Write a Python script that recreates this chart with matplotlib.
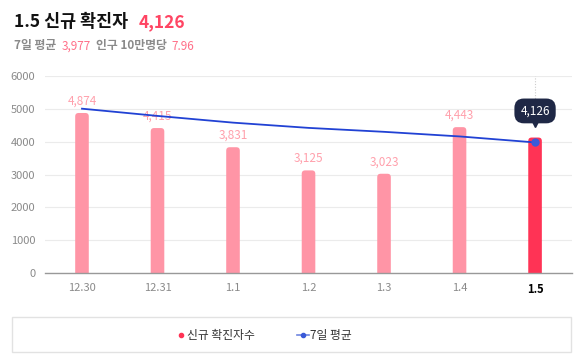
import matplotlib
matplotlib.use("Agg")
import matplotlib.pyplot as plt
from matplotlib.patches import FancyBboxPatch, Rectangle
from matplotlib.lines import Line2D
import matplotlib.transforms as mtransforms

plt.rcParams['font.family'] = ['Noto Sans CJK KR', 'DejaVu Sans']

# data
dates = ['12.30', '12.31', '1.1', '1.2', '1.3', '1.4', '1.5']
new_cases = [4874, 4415, 3831, 3125, 3023, 4443, 4126]
avg_7day = [5005, 4785, 4580, 4420, 4300, 4160, 3977]
per_100k = 7.96

BAR = '#ff95a6'
BAR_HI = '#ff3355'
LINE = '#2142d4'
GREY = '#8a8a8a'

fig = plt.figure(figsize=(5.79, 3.62), dpi=100)
ax = fig.add_axes([0.0777, 0.2459, 0.9103, 0.5441])

x = list(range(len(dates)))
ax.set_xlim(-0.49, 6.49)
ax.set_ylim(0, 6000)

# bars with rounded tops
w = 0.18
ppx = 0.91 * 5.79 * 100 / 6.98          # pixels per x unit
ppy = 0.5441 * 3.62 * 100 / 6000        # pixels per y unit
for i, v in enumerate(new_cases):
    c = BAR_HI if i == len(new_cases) - 1 else BAR
    p = FancyBboxPatch((i - w / 2, -300), w, v + 300,
                       boxstyle="round,pad=0,rounding_size=0.045",
                       mutation_aspect=ppx / ppy,
                       fc=c, ec='none', zorder=2)
    ax.add_patch(p)
    if i < len(new_cases) - 1:
        ax.annotate(f'{v:,}', (i, v), xytext=(0, 4), textcoords='offset points',
                    ha='center', va='bottom', fontsize=8.5, color='#ffa0ac')

ax.plot(x, avg_7day, color=LINE, lw=1.3, zorder=3)
ax.plot(x[-1], avg_7day[-1], 'o', color='#3a5ad8', ms=5, zorder=4)

# tooltip on last day
last = new_cases[-1]
ax.vlines(x[-1], 5150, 6000, colors='#cccccc', linestyles=(0, (1, 1.5)), lw=0.8, zorder=1)
ax.annotate(f'{last:,}', (x[-1], avg_7day[-1]), xytext=(0, 18), textcoords='offset points',
            ha='center', va='bottom', fontsize=8.5, color='white', zorder=6,
            bbox=dict(boxstyle='round,pad=0.5,rounding_size=0.8', fc='#1f2846', ec='none'))
tri = mtransforms.offset_copy(ax.transData, fig=fig, x=0, y=14, units='points')
ax.plot(x[-1], avg_7day[-1], marker='v', color='#1f2846', ms=6, transform=tri,
        zorder=5, clip_on=False)

# axes styling
ax.set_yticks(range(0, 6001, 1000))
ax.set_yticklabels([str(t) for t in range(0, 6001, 1000)])
ax.set_xticks(x)
ax.set_xticklabels(dates)
ax.tick_params(axis='both', length=0, colors=GREY, labelsize=8)
ax.tick_params(axis='x', pad=7)
ax.tick_params(axis='y', pad=7)
xl = ax.get_xticklabels()
xl[-1].set_color('black')
xl[-1].set_fontweight('bold')
ax.grid(axis='y', color='#ebebeb', lw=0.8, zorder=0)
ax.set_axisbelow(True)
for s in ['top', 'right', 'left']:
    ax.spines[s].set_visible(False)
ax.spines['bottom'].set_color('#999999')
ax.spines['bottom'].set_linewidth(1.0)
ax.spines['bottom'].set_zorder(5)

# title
fig.text(14 / 579, 1 - 22 / 362, f'{dates[-1]} 신규 확진자', fontsize=12.5,
         fontweight='bold', color='#111111', va='center')
fig.text(139 / 579, 1 - 22 / 362, f'{last:,}', fontsize=12.5,
         color='#ff4563', va='center', fontweight='bold')
sub_y = 1 - 46 / 362
fig.text(14 / 579, sub_y, '7일 평균', fontsize=8.5, fontweight='bold', color=GREY, va='center')
fig.text(62 / 579, sub_y, f'{avg_7day[-1]:,}', fontsize=8.5, color='#ff6f88', va='center')
fig.text(96 / 579, sub_y, '인구 10만명당', fontsize=8.5, fontweight='bold', color=GREY, va='center')
fig.text(171 / 579, sub_y, f'{per_100k}', fontsize=8.5, color='#ff6f88', va='center')

# legend box
fig.patches.append(Rectangle((12 / 579, 10 / 362), 559 / 579, 35 / 362,
                             transform=fig.transFigure, fc='white', ec='#e2e2e2', lw=1))
leg_y = 1 - 335 / 362
fig.lines.append(Line2D([181 / 579], [leg_y], marker='o', ms=3, color=BAR_HI,
                        transform=fig.transFigure))
fig.text(187 / 579, leg_y, '신규 확진자수', fontsize=8.5, color='#333333', va='center')
fig.lines.append(Line2D([297 / 579, 303 / 579, 309 / 579], [leg_y, leg_y, leg_y],
                        color='#6f86e0', lw=1.2, marker='o', markevery=[1], ms=3,
                        mfc='#3a5ad8', mec='#3a5ad8', transform=fig.transFigure))
fig.text(310 / 579, leg_y, '7일 평균', fontsize=8.5, color='#333333', va='center')

fig.savefig('out.png', dpi=100)
